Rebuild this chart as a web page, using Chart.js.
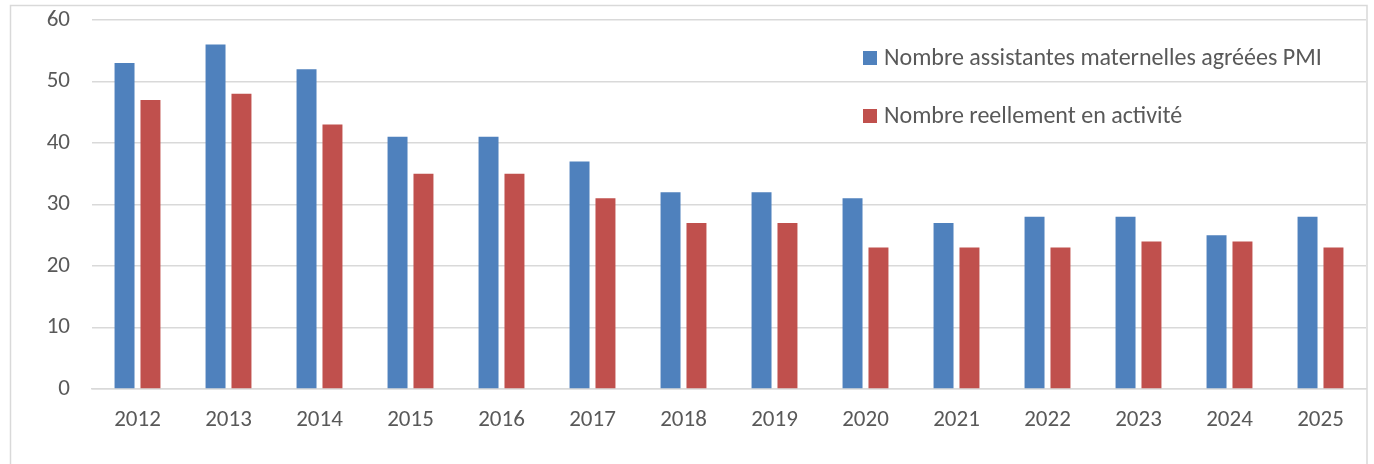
<!DOCTYPE html>
<html>
<head>
<meta charset="utf-8">
<script src="https://cdn.jsdelivr.net/npm/chart.js@4"></script>
<style>
  html, body { margin: 0; padding: 0; background: #fff; }
  #wrap { position: relative; width: 1374px; height: 464px; }
</style>
</head>
<body>
<div id="wrap"><canvas id="c" width="1374" height="464"></canvas></div>
<script>
const categories = ['2012','2013','2014','2015','2016','2017','2018','2019','2020','2021','2022','2023','2024','2025'];
const agreees = [53, 56, 52, 41, 41, 37, 32, 32, 31, 27, 28, 28, 25, 28];
const enActivite = [47, 48, 43, 35, 35, 31, 27, 27, 23, 23, 23, 24, 24, 23];
const seriesNames = ['Nombre assistantes maternelles agréées PMI', 'Nombre reellement en activité'];
const yTicks = [0, 10, 20, 30, 40, 50, 60];

const FONT = "Carlito, 'Open Sans', sans-serif";
const FS = 23;
const LFS = 24;
const TXT = '#595959';
const GRID = '#D9D9D9';

const framePlugin = {
  id: 'frame',
  beforeDraw(chart) {
    const ctx = chart.ctx;
    ctx.save();
    ctx.fillStyle = '#fff';
    ctx.fillRect(0, 0, chart.width, chart.height);
    ctx.strokeStyle = GRID;
    ctx.lineWidth = 1.5;
    ctx.strokeRect(10.5, 5.5, 1356.5, 480);
    ctx.restore();
  }
};

const innerLegend = {
  id: 'innerLegend',
  afterDraw(chart) {
    const ctx = chart.ctx;
    ctx.save();
    ctx.font = LFS + "px " + FONT;
    ctx.textBaseline = 'alphabetic';
    ctx.textAlign = 'left';
    const baselines = [65, 123];
    chart.data.datasets.forEach((ds, i) => {
      ctx.fillStyle = ds.backgroundColor;
      ctx.fillRect(863, baselines[i] - 14, 14, 14);
      ctx.fillStyle = TXT;
      ctx.fillText(ds.label, 884, baselines[i]);
    });
    ctx.restore();
  }
};

new Chart(document.getElementById('c'), {
  type: 'bar',
  data: {
    labels: categories,
    datasets: [
      { label: seriesNames[0], data: agreees, backgroundColor: '#4F81BD', borderWidth: 0 },
      { label: seriesNames[1], data: enActivite, backgroundColor: '#C0504D', borderWidth: 0 }
    ]
  },
  options: {
    responsive: false,
    animation: false,
    devicePixelRatio: 1,
    layout: { padding: { top: 20, right: 8, left: 0, bottom: 0 } },
    datasets: { bar: { categoryPercentage: 0.57, barPercentage: 0.77 } },
    plugins: { legend: { display: false }, tooltip: { enabled: false } },
    scales: {
      x: {
        grid: { display: false, drawTicks: false },
        border: { display: true, color: GRID, width: 1.5 },
        ticks: { color: TXT, font: { family: FONT, size: FS }, padding: 17, maxRotation: 0 },
        afterFit(s) { s.height = 75; s.paddingLeft = 0; s.paddingRight = 0; }
      },
      y: {
        min: 0, max: 60,
        afterBuildTicks(s) { s.ticks = yTicks.map(v => ({ value: v })); },
        grid: { color: GRID, lineWidth: 1.5, drawTicks: false },
        border: { display: false },
        ticks: { color: TXT, font: { family: FONT, size: FS }, padding: 22 },
        afterFit(s) { s.width = 92; s.paddingTop = 0; s.paddingBottom = 0; }
      }
    }
  },
  plugins: [framePlugin, innerLegend]
});
</script>
</body>
</html>
